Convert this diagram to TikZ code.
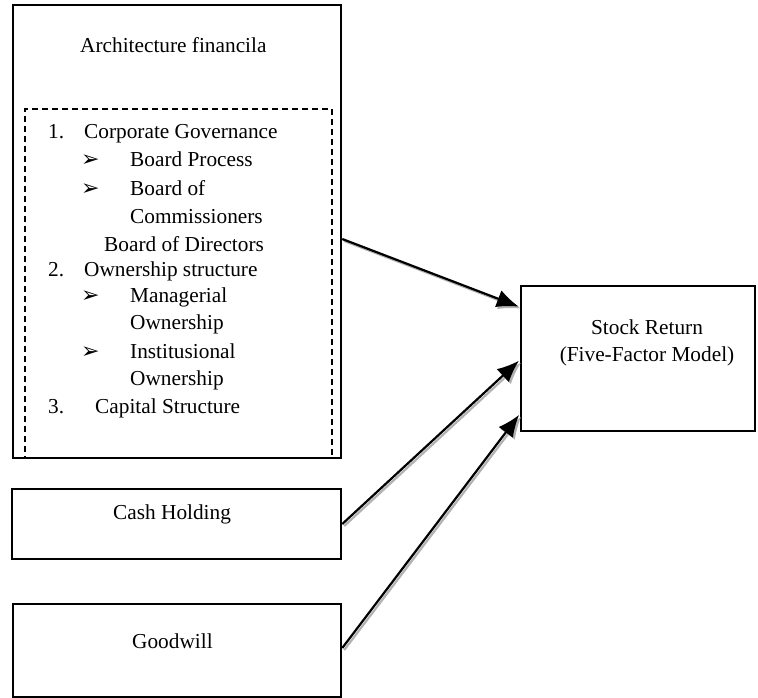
\documentclass[tikz,border=0pt]{standalone}
\usepackage{fontspec}
\setmainfont{Liberation Serif}
\newfontfamily\dingfont{DejaVu Sans}
\usetikzlibrary{arrows.meta,positioning}

\newcommand{\pointer}{{\dingfont\fontsize{22}{22}\selectfont ➢}}

\begin{document}
\begin{tikzpicture}[x=1pt,y=-1pt,
    box/.style={draw=black,line width=2.5pt,rectangle,inner sep=0pt},
    dashbox/.style={draw=black,line width=1.6pt,dash pattern=on 6pt off 4pt,rectangle,inner sep=0pt},
    txt/.style={anchor=base west,inner sep=0pt,font=\fontsize{21.3}{27}\selectfont},
    link/.style={-{Latex[length=22pt,width=18pt]},line width=2.2pt,shorten >=1pt},
    linkshadow/.style={link,draw=gray!60,fill=gray!60,transform canvas={shift={(2pt,-2pt)}}}]
  \useasboundingbox (0,0) rectangle (758,698);

  % boxes
  \node[box,minimum width=328pt,minimum height=453pt] (arch) at (177,231.5) {};
  \node[dashbox,minimum width=307pt,minimum height=349pt] (list) at (178.5,283.5) {};
  \node[box,minimum width=234pt,minimum height=145pt] (ret) at (638,358.5) {};
  \node[box,minimum width=329pt,minimum height=70pt] (cash) at (176.5,524) {};
  \node[box,minimum width=328pt,minimum height=93pt] (good) at (177,650.5) {};

  % texts
  \node[txt] (archtitle) at (80,53) {Architecture financila};
  \foreach \x/\y/\t in {48/139/1., 84/139/Corporate Governance,
      130/167/Board Process, 130/196/Board of, 130/223/Commissioners,
      104/251/Board of Directors, 48/276/2., 84/276/Ownership structure,
      130/302/Managerial, 130/329/Ownership, 130/358/Institusional,
      130/385/Ownership, 48/413/3., 95/413/Capital Structure}
    \node[txt] at (\x,\y) {\t};
  \foreach \y in {167,196,302,358}
    \node[txt] at (81,\y) {\pointer};
  \node[txt,anchor=center,align=center] (rettext) at (647,343)
    {Stock Return\\(Five-Factor Model)};
  \node[txt] (cashtext) at (113,519) {Cash Holding};
  \node[txt] (goodtext) at (132,648) {Goodwill};

  % connectors
  \draw[linkshadow] ([yshift=-7.5pt]arch.east) -- ([yshift=51.5pt]ret.west);
  \draw[linkshadow] (cash.east) -- ([yshift=-1.5pt]ret.west);
  \draw[linkshadow] ([yshift=2.5pt]good.east) -- ([yshift=-55.5pt]ret.west);
  \draw[link] ([yshift=-7.5pt]arch.east) -- ([yshift=51.5pt]ret.west);
  \draw[link] (cash.east) -- ([yshift=-1.5pt]ret.west);
  \draw[link] ([yshift=2.5pt]good.east) -- ([yshift=-55.5pt]ret.west);
\end{tikzpicture}
\end{document}
